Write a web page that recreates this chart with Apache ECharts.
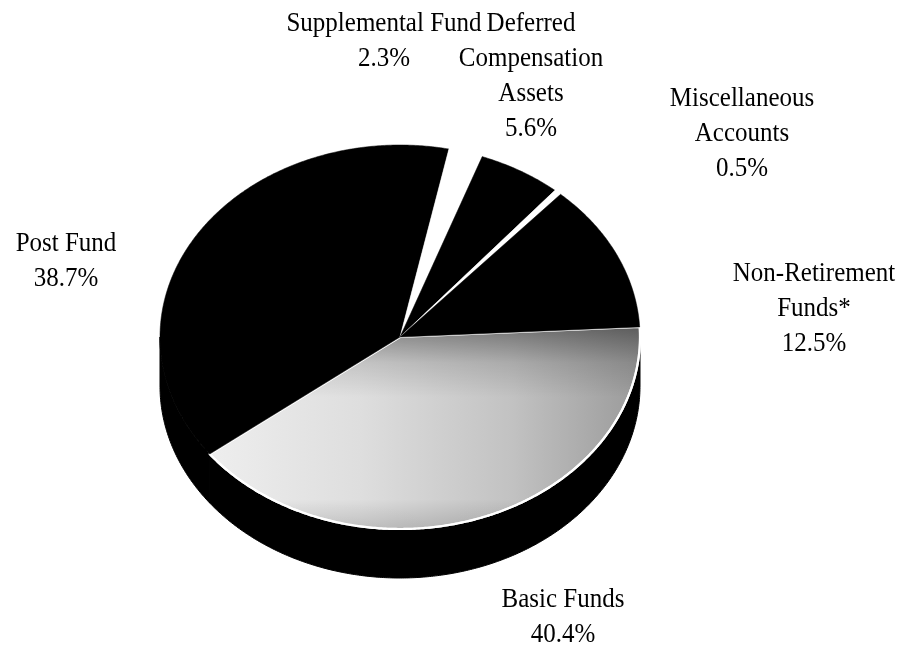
<!DOCTYPE html>
<html>
<head>
<meta charset="utf-8">
<title>Assets by Fund</title>
<script src="https://cdn.jsdelivr.net/npm/echarts@6/dist/echarts.min.js"></script>
<style>
  html, body { margin: 0; padding: 0; background: #ffffff; }
  #chart { width: 900px; height: 649px; }
</style>
</head>
<body>
<div id="chart"></div>
<script>
// Fund categories, listed clockwise starting at the right-hand edge of the disc
const categories = [
  'Basic Funds',
  'Post Fund',
  'Supplemental Fund',
  'Deferred\nCompensation\nAssets',
  'Miscellaneous\nAccounts',
  'Non-Retirement\nFunds*'
];
// Share of total assets (percent)
const shares = [40.4, 38.7, 2.3, 5.6, 0.5, 12.5];

// Label anchor (centre x, top y) for each category's caption
const labelAnchors = [[563, 582], [66, 226], [384, 6], [531, 6], [742, 81], [814, 256]];

// Tilted-disc geometry
const disc = { cx: 400, cy: 337, rx: 240, ry: 192, depth: 49, startDeg: -3 };

const total = shares.reduce((a, b) => a + b, 0);
const cumBefore = shares.map((_, i) => shares.slice(0, i).reduce((a, b) => a + b, 0));

function sliceAngles(i, value) {
  const a0 = disc.startDeg + 360 * cumBefore[i] / total;
  const a1 = a0 + 360 * value / total;
  return [a0, a1];
}
function rimPoint(deg, dy) {
  const r = deg * Math.PI / 180;
  return [disc.cx + disc.rx * Math.cos(r), disc.cy + disc.ry * Math.sin(r) + (dy || 0)];
}
function arcPoints(a0, a1, dy) {
  const n = Math.max(2, Math.ceil(Math.abs(a1 - a0) / 0.5));
  const pts = [];
  for (let k = 0; k <= n; k++) pts.push(rimPoint(a0 + (a1 - a0) * k / n, dy));
  return pts;
}

// Shaded face of the Basic Funds slice: pale on the left, greyer towards the right rim
const basicFill = new echarts.graphic.LinearGradient(0, 0, 1, 0, [
  { offset: 0, color: '#eeeeee' },
  { offset: 0.35, color: '#dedede' },
  { offset: 0.7, color: '#c2c2c2' },
  { offset: 1, color: '#9a9a9a' }
]);
// Darker band along the upper edge of that face
const basicEdgeShade = new echarts.graphic.LinearGradient(0, 0, 0, 1, [
  { offset: 0, color: 'rgba(0,0,0,0.42)' },
  { offset: 0.18, color: 'rgba(0,0,0,0.12)' },
  { offset: 0.35, color: 'rgba(0,0,0,0)' },
  { offset: 0.85, color: 'rgba(0,0,0,0)' },
  { offset: 1, color: 'rgba(0,0,0,0.15)' }
]);
const faceFills = [basicFill, '#000000', '#ffffff', '#000000', '#ffffff', '#000000'];
const faceStrokes = ['#ffffff', null, null, null, null, null];

// Front wall of each slice (the part of its rim that faces the viewer)
function renderSide(params, api) {
  const i = params.dataIndex;
  const [a0, a1] = sliceAngles(i, api.value(0));
  const children = [];
  [0, 360].forEach(function (shift) {
    const s = Math.max(a0, shift), e = Math.min(a1, shift + 180);
    if (e > s) {
      const top = arcPoints(s, e, 0);
      const bottom = arcPoints(e, s, disc.depth);
      children.push({
        type: 'polygon',
        shape: { points: top.concat(bottom) },
        style: { fill: '#000000', stroke: '#000000', lineWidth: 1 }
      });
    }
  });
  return { type: 'group', children: children };
}

// Top face of each slice plus its caption
function renderFace(params, api) {
  const i = params.dataIndex;
  const v = api.value(0);
  const [a0, a1] = sliceAngles(i, v);
  const pts = [[disc.cx, disc.cy]].concat(arcPoints(a0, a1, 0));
  const anchor = labelAnchors[i];
  const children = [
    {
      type: 'polygon',
      shape: { points: pts },
      style: {
        fill: faceFills[i],
        stroke: faceStrokes[i] || faceFills[i],
        lineWidth: faceStrokes[i] ? 2.2 : 0.5,
        lineJoin: 'round'
      }
    }
  ];
  if (i === 0) {
    children.push({
      type: 'polygon',
      shape: { points: pts },
      style: { fill: basicEdgeShade, stroke: '#ffffff', lineWidth: 2.2, lineJoin: 'round' }
    });
  }
  children.push({
    type: 'text',
    x: anchor[0],
    y: anchor[1],
    scaleY: 1.08,
    originX: 0,
    originY: 0,
    style: {
      text: categories[i] + '\n' + v.toFixed(1) + '%',
      fill: '#000000',
      fontFamily: '"Liberation Serif", "Times New Roman", "DejaVu Serif", serif',
      fontSize: 25,
      lineHeight: 32.4,
      align: 'center',
      verticalAlign: 'top'
    }
  });
  return { type: 'group', children: children };
}

const chart = echarts.init(document.getElementById('chart'), null, { renderer: 'canvas' });
const seriesData = shares.map(function (v, i) { return { name: categories[i], value: [v] }; });

chart.setOption({
  backgroundColor: '#ffffff',
  animation: false,
  series: [
    { type: 'custom', name: 'sides', coordinateSystem: 'none', z: 1, renderItem: renderSide, data: seriesData, silent: true },
    { type: 'custom', name: 'faces', coordinateSystem: 'none', z: 2, renderItem: renderFace, data: seriesData }
  ]
});
</script>
</body>
</html>
